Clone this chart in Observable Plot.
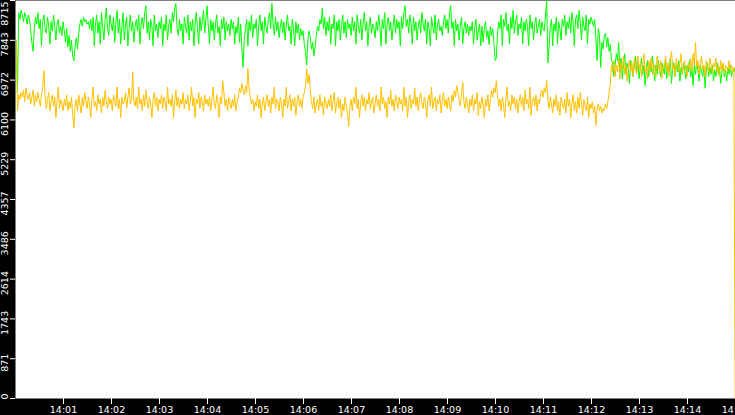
<!DOCTYPE html>
<html><head><meta charset="utf-8">
<script src="https://cdn.jsdelivr.net/npm/d3@7"></script>
<script src="https://cdn.jsdelivr.net/npm/@observablehq/plot@0.6"></script>
<style>html,body{margin:0;padding:0;background:#000;} #chart svg{display:block}</style>
</head><body><div id="chart"></div>
<script>
const day = "2024-01-01";
const startTime = "14:00:01";
const stepSeconds = 1.5;
const greenValues = [
7840,6700,8450,8300,8500,8400,8250,8450,8350,8200,8400,8300,8050,7800,7600,8100,8350,8200,8450,8100,
8300,7720,8250,8400,8100,8000,8350,8150,7760,8250,8050,8400,8150,7850,8200,8300,8000,8150,7950,8250,
8050,7800,8100,7700,7950,7600,7850,7500,7400,7700,7900,7650,8000,8200,8300,8150,8350,8250,8300,8200,
8250,8100,8300,8050,8350,7720,8200,8400,8000,8250,7760,8450,8150,7850,8300,8550,8100,7950,8400,8200,
8050,8350,7800,8250,8500,8000,8300,7760,8150,8450,7850,8200,8350,7720,8100,8400,8050,8250,7800,8150,
8300,8050,8400,7760,8200,8350,8100,8450,8600,8000,8250,7850,8300,8150,7720,8400,8050,8200,7900,8250,
8100,8350,7720,8200,8050,8400,7850,8150,8300,8000,8450,8250,8550,8650,8100,7950,8300,8050,8200,7760,
8350,8150,8000,8400,7850,8250,8050,8300,7720,8200,8450,8100,7760,8350,8050,8250,8500,8000,8300,8600,
8150,7760,8300,8050,8250,7850,8200,8400,8000,8150,7720,8300,8100,8350,7850,8250,8050,8200,7950,8300,
8100,8250,7760,8150,8000,8350,7800,8200,7650,7250,7900,8100,8300,7720,8250,8050,8400,7900,8200,8100,
8300,7720,8150,8400,8050,8250,7760,8350,8150,8000,8300,8450,8100,8650,8200,7950,8350,8050,8250,7900,
8150,8300,8000,8250,7850,8200,8400,8050,8150,7760,8300,8100,7720,8250,8000,8200,7850,8100,7950,8050,
7750,7600,7300,7850,8050,7900,7650,7800,7500,7700,7950,8150,8050,8300,8200,8550,8100,8350,7950,8250,
8050,8350,7760,8200,8100,8400,7720,8250,8050,8300,7850,8150,8400,8000,8250,7900,8300,8100,8200,7950,
8350,8050,8250,7760,8400,8150,8000,8300,7850,8200,8450,8050,8250,7720,8150,8350,8000,8200,8100,7900,
8250,8050,8400,8150,7720,8300,8100,8450,7760,8200,8350,8050,8250,7850,8150,8400,8000,8300,8100,8250,
7720,8350,8100,8450,8600,8150,8300,8000,8400,8200,7760,8350,8050,8250,7850,8150,8300,8000,8450,8200,
8050,8300,7760,8250,8100,7720,8350,8150,8000,8400,7850,8200,8300,8050,8150,7950,8250,8400,8100,8300,
8000,8450,8600,8100,8250,7720,8300,8050,8200,7850,8150,8350,7760,8100,8250,8000,8200,7950,8150,8050,
8250,7760,8100,8300,7850,8050,8200,7720,8150,7800,8100,8250,7900,8050,7750,8150,7950,8100,7800,7400,
7450,8000,8250,8100,8400,7720,8300,8150,8450,8050,8200,7760,8350,8100,8500,8000,8250,8400,7950,8200,
8100,8350,7760,8250,8050,8300,8150,7720,8400,8100,8250,7850,8200,8350,8000,8150,8300,7950,8250,8100,
8050,8400,8715,7350,7700,8150,8300,7720,8200,8050,8350,7760,8250,8100,7850,8300,8150,8400,7950,8250,
8100,8350,8000,8450,8250,7720,8300,8400,8100,8500,8200,7850,8350,8150,8050,8400,7760,8300,8200,8350,
8250,8150,8300,7900,7400,8100,7950,7250,7800,7650,7950,8000,7700,7900,7600,7750,7400,7350,7050,7300,
7550,7400,7800,7150,7450,7000,7300,7550,7100,7350,7200,6900,7400,7250,7050,7300,7500,7150,7350,7000,
7250,7450,7100,7300,6850,7200,7400,7050,7350,7150,7500,7250,6950,7300,7100,7400,7200,7050,7350,7250,
7100,7400,7000,7300,7200,7450,6900,7250,7350,7050,7300,7150,7400,6950,7250,7100,7350,7200,7000,7300,
7150,7400,7050,7250,6850,7300,7100,7350,7200,6950,7300,7150,7050,7250,6800,7200,7350,7050,7250,7100,
7300,6950,7200,7050,7350,7100,7250,6900,7150,7300,7050,7200,6950,7250,7100,7300,7050,7200,7150,7250
];
const goldValues = [
7840,6300,6650,6550,6700,6600,6750,6500,6800,6650,6550,6700,6450,6600,6750,6400,6650,6500,6700,6550,
6400,6650,6800,7180,6600,6350,6550,6700,6300,6500,6650,6400,6600,6150,6500,6820,6350,6550,6450,6300,
6550,6400,6650,6300,6500,6350,6600,6200,5920,6400,6550,6300,6650,6450,6250,6600,6400,6700,6500,6350,
6600,6450,6150,6550,6820,6400,6500,6300,6650,6450,6550,6250,6600,6400,6750,6500,6350,6600,6450,6550,
6300,6650,6500,6400,6820,6350,6550,6150,6600,6450,6500,6700,6350,6600,6800,6450,6550,7150,6500,6400,
6600,6350,6820,6450,6550,6300,6650,6400,6750,6500,6350,6600,6450,6150,6550,6700,6400,6600,6300,6550,
6450,6650,6350,6600,6500,6300,6820,6450,6550,6400,6650,6150,6500,6750,6400,6600,6350,6550,6450,6700,
6350,6550,6450,6650,6300,6500,6820,6400,6600,6150,6550,6450,6700,6350,6600,6500,6300,6650,6450,6550,
6400,6600,6300,6550,6820,6450,6350,6650,6500,6150,6600,6450,6960,6700,6400,6550,6300,6600,6450,6350,
6550,6400,6650,6300,6500,6600,6800,6700,6900,6750,6650,6850,6700,7230,6800,6600,6450,6550,6300,6500,
6400,6650,6350,6550,6150,6450,6600,6300,6500,6650,6400,6550,6250,6600,6450,6820,6350,6550,6500,6300,
6600,6450,6150,6550,6400,6820,6350,6500,6650,6300,6550,6400,6600,6200,6500,6650,6400,6550,6350,6600,
6700,6850,7220,6900,7100,6750,6500,6350,6600,6250,6450,6550,6300,6650,6400,6500,6200,6600,6450,6350,
6550,6400,6650,6300,6500,6700,6250,6450,6600,6350,6550,6150,6450,6300,6600,6400,6250,5960,6400,6550,
6300,6600,6450,6820,6350,6550,6150,6500,6650,6400,6600,6300,6550,6450,6700,6350,6500,6600,6250,6450,
6650,6400,6550,6300,6820,6450,6600,6350,6500,6150,6600,6450,6750,6400,6550,6300,6650,6500,6350,6600,
6450,6550,6300,6820,6400,6600,6150,6500,6650,6350,6550,6450,6800,6400,6600,6300,6550,6700,6450,6350,
6600,6450,6150,6550,6650,6400,6820,6350,6500,6600,6300,6550,6450,6650,6250,6500,6700,6400,6550,6350,
6600,6450,6300,6650,6500,6750,6600,6850,6700,6550,6400,6650,6920,6500,6350,6600,6450,6250,6550,6400,
6650,6300,6550,6450,6700,6200,6500,6350,6600,6450,6150,6550,6400,6650,6300,6500,6750,6600,6800,6700,
6960,6650,6400,6550,6300,6600,6450,6150,6550,6820,6400,6500,6300,6650,6450,6600,6350,6550,6250,6500,
6650,6400,6600,6300,6750,6450,6550,6350,6820,6200,6500,6600,6400,6650,6300,6550,6450,6700,6750,6600,
6800,6700,6960,6550,6350,6600,6450,6250,6550,6400,6650,6300,6500,6200,6600,6450,6350,6550,6250,6700,
6400,6550,6150,6450,6650,6300,6500,6250,6600,6350,6700,6450,6200,6550,6400,6300,6600,6150,6450,6350,
6500,6250,6400,5980,6350,6450,6300,6400,6250,6350,6300,6450,6350,6500,6700,6900,7300,7150,7400,7050,
7300,7150,7450,7000,7350,7200,7500,7100,7300,6950,7250,7400,7150,7350,7050,7450,7250,7100,7500,7200,
7350,7050,7300,7550,7150,7250,7000,7400,7200,7450,7100,7350,7250,7050,7500,7300,7150,7400,7000,7300,
7250,7500,7150,7350,7050,7400,7600,7200,7300,7050,7450,7250,7150,7350,7550,7100,7300,7400,7200,7050,
7350,7200,7450,7150,7550,7300,7800,7250,7400,7100,7350,7500,7200,7300,7050,7400,7250,7150,7450,7300,
7100,7350,7250,7450,7150,7300,7050,7400,7200,7350,7100,7300,7250,7150,7400,7200,7300,7150,7250,0
];
const yTicks = [0, 871, 1743, 2614, 3486, 4357, 5229, 6100, 6972, 7843, 8715];
const xTickLabels = ["14:01","14:02","14:03","14:04","14:05","14:06","14:07","14:08","14:09","14:10","14:11","14:12","14:13","14:14","14:15"];
const xDomain = ["14:00:00", "14:15:00"];

const t0 = new Date(`${day}T${startTime}Z`).getTime();
const rows = greenValues.map((g, i) => ({t: new Date(t0 + i * stepSeconds * 1000), green: g, gold: goldValues[i]}));
const xTicks = xTickLabels.map(s => new Date(`${day}T${s}:00Z`));
const fmt = d3.utcFormat("%H:%M");
const font = "DejaVu Sans";

const plot = Plot.plot({
  width: 735, height: 415,
  marginLeft: 15, marginRight: 0, marginTop: 0, marginBottom: 17,
  style: {background: "#000", fontFamily: font, fontSize: "9.5px", color: "#fff"},
  x: {type: "utc", domain: xDomain.map(s => new Date(`${day}T${s}Z`)), label: null},
  y: {domain: [0, 8715], label: null},
  marks: [
    Plot.frame({fill: "#fff", stroke: "none"}),
    Plot.line(rows, {x: "t", y: "green", stroke: "#00ff00", strokeWidth: 1}),
    Plot.line(rows, {x: "t", y: "gold", stroke: "#ffc000", strokeWidth: 1}),
    Plot.axisX(xTicks, {tickSize: 6, tickPadding: 2, stroke: "#fff", fill: "#fff", tickFormat: fmt, fontSize: 9.5, label: null}),
    Plot.axisY(yTicks, {tickSize: 5, stroke: "#fff", fill: "#fff", tickFormat: () => "", label: null}),
    Plot.text(yTicks.slice(1, -1), {y: d => d, text: d => String(d), frameAnchor: "left", dx: -11, dy: 4, rotate: -90, textAnchor: "middle", fill: "#fff", fontSize: 9.5}),
    Plot.text([yTicks[yTicks.length - 1]], {y: d => d, text: d => String(d), frameAnchor: "left", dx: -11, dy: 1, rotate: -90, textAnchor: "end", fill: "#fff", fontSize: 9.5}),
    Plot.text([yTicks[0]], {y: d => d, text: d => String(d), frameAnchor: "left", dx: -11, dy: 1, rotate: -90, textAnchor: "start", fill: "#fff", fontSize: 9.5})
  ]
});
document.getElementById("chart").appendChild(plot);
</script>
</body></html>
